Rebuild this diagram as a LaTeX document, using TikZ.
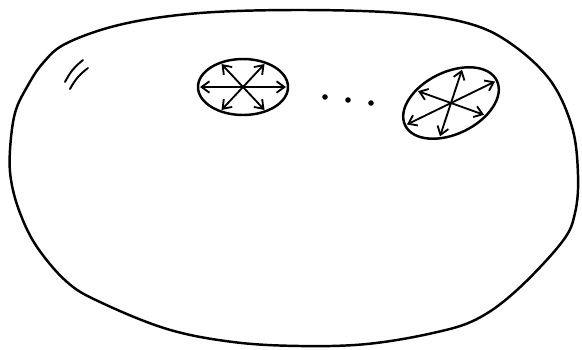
\documentclass[tikz,border=0pt]{standalone}
\usepackage{amsmath, amssymb}
\usetikzlibrary{arrows.meta}

\begin{document}
\begin{tikzpicture}[x=0.02cm,y=-0.02cm,line cap=round,line join=round,
  rim/.style={line width=1.4pt},
  ray/.style={line width=1.05pt,-{Straight Barb[length=4.5pt,width=6.5pt]}}]
  \useasboundingbox (0,0) rectangle (582,349);
  \draw[rim] plot[smooth cycle,tension=0.6] coordinates {
    (10,150) (15,113) (27,87) (43,63) (67,43) (123,24) (200,13) (300,10)
    (400,13) (467,23) (510,43) (550,80) (572,127) (578,175) (575,213)
    (562,242) (517,290) (477,319) (433,333) (367,344) (300,346)
    (233,342) (167,329) (100,302) (67,282) (37,247) (20,213) (11,180)};
  \draw[line width=1.1pt] (65,82) to[bend left=12] (83,60);
  \draw[line width=1.1pt] (70,89) to[bend left=12] (88,68);
  \coordinate (c1) at (243,87);
  \draw[rim] (c1) ellipse [x radius=45, y radius=28];
  \foreach \a in {0,60,120,180,240,300}
    \draw[ray] (c1) -- ++({43*cos(\a)},{26.5*sin(\a)});
  \coordinate (c2) at (451,103);
  \begin{scope}[rotate around={26:(c2)}]
    \draw[rim] (c2) ellipse [x radius=51, y radius=31];
    \foreach \a in {0,60,120,180,240,300}
      \draw[ray] (c2) -- ++({49*cos(\a)},{29*sin(\a)});
  \end{scope}
  \foreach \x/\y in {325/97,348/100,371/103}
    \fill (\x,\y) circle [radius=2.8];
\end{tikzpicture}
\end{document}
